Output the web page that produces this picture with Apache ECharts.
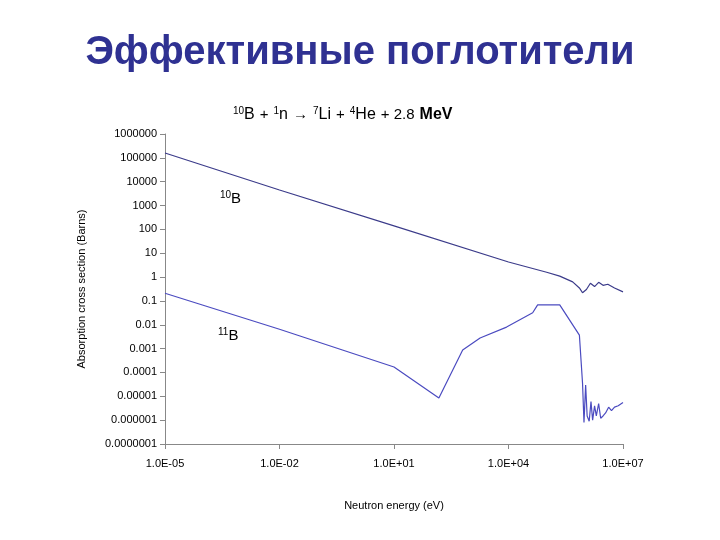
<!DOCTYPE html>
<html><head><meta charset="utf-8">
<script src="https://cdn.jsdelivr.net/npm/echarts@6/dist/echarts.min.js"></script>
<style>html,body{margin:0;padding:0;background:#fff}#c{width:720px;height:540px}</style>
</head><body><div id="c"></div>
<script>
// Energies (eV) and cross sections (barns)
const b10Energy = [1e-5, 1e-2, 1e1, 1e4, 1e5, 2.2e5, 4.8e5, 7.2e5, 8.7e5, 1.1e6, 1.4e6, 1.8e6, 2.3e6, 3e6, 4e6, 6e6, 1e7];
const b10Sigma  = [1.6e5, 4.5e3, 1.4e2, 4.3, 1.6, 1.1, 0.63, 0.35, 0.22, 0.3, 0.55, 0.4, 0.6, 0.45, 0.5, 0.35, 0.24];
const b11Energy = [1e-5, 1e-2, 1e1, 1.5e2, 6.3e2, 1.8e3, 8.9e3, 4.3e4, 5.8e4, 2.2e5, 7.2e5, 8.7e5, 9.5e5, 1.05e6, 1.15e6, 1.3e6, 1.45e6, 1.6e6, 1.8e6, 2e6, 2.3e6, 2.6e6, 3e6, 3.5e6, 4.2e6, 5e6, 6e6, 7.5e6, 1e7];
const b11Sigma  = [0.21, 6.5e-3, 1.7e-4, 8.5e-6, 8.7e-4, 2.8e-3, 8e-3, 3.2e-2, 6.8e-2, 6.8e-2, 3.7e-3, 3.6e-5, 8e-7, 3e-5, 1.5e-6, 9e-7, 6e-6, 1e-6, 4e-6, 1.5e-6, 5e-6, 1.2e-6, 1.5e-6, 2e-6, 3.5e-6, 2.5e-6, 3.5e-6, 4e-6, 5.5e-6];
const xTickExp = [-5, -2, 1, 4, 7];
const yMinExp = -7, yMaxExp = 6;

const toPts = (e, s) => e.map((v, i) => [Math.log10(v), Math.log10(s[i])]);
const fmtX = v => '1.0E' + (v < 0 ? '-' : '+') + String(Math.abs(Math.round(v))).padStart(2, '0');
const fmtY = v => { const n = Math.round(v); return n >= 0 ? String(Math.pow(10, n)) : (Math.pow(10, n)).toFixed(-n); };

const chart = echarts.init(document.getElementById('c'));
chart.setOption({
  animation: false,
  textStyle: { fontFamily: 'Liberation Sans, Arial, sans-serif' },
  title: [
    { text: 'Эффективные поглотители', left: 'center', top: 28,
      textStyle: { fontSize: 40, fontWeight: 'bold', color: '#2f3192', fontFamily: 'Liberation Sans, Arial' } },
    { text: '{s|10}{n|B} {o|+} {s|1}{n|n} {o|→} {s|7}{n|Li} {o|+} {s|4}{n|He} {o|+ 2.8} {b|MeV}', left: 228, top: 101,
      textStyle: { fontWeight: 'normal', rich: {
        s: { fontSize: 10, color: '#000', fontWeight: 'normal', padding: [0, 0, 8, 0] },
        n: { fontSize: 16, color: '#000', fontWeight: 'normal' },
        o: { fontSize: 15, color: '#000', fontWeight: 'normal' },
        b: { fontSize: 16, fontWeight: 'bold', color: '#000' } } } },
    { text: '{s|10}{n|B}', left: 215, top: 185, textStyle: { fontWeight: 'normal', rich: { s: { fontSize: 10, color: '#000', fontWeight: 'normal', padding: [0,0,8,0] }, n: { fontSize: 15, color: '#000', fontWeight: 'normal' } } } },
    { text: '{s|11}{n|B}', left: 213, top: 322, textStyle: { fontWeight: 'normal', rich: { s: { fontSize: 10, color: '#000', fontWeight: 'normal', padding: [0,0,8,0] }, n: { fontSize: 15, color: '#000', fontWeight: 'normal' } } } }
  ],
  grid: { left: 165, right: 97, top: 134, bottom: 96 },
  xAxis: {
    type: 'value', min: -5, max: 7, interval: 3,
    name: 'Neutron energy (eV)', nameLocation: 'middle', nameGap: 56,
    nameTextStyle: { fontSize: 11, color: '#000' },
    axisLine: { onZero: false, lineStyle: { color: '#888' } },
    axisTick: { lineStyle: { color: '#888' }, length: 5 },
    axisLabel: { formatter: fmtX, color: '#000', fontSize: 11, margin: 14 },
    splitLine: { show: false }
  },
  yAxis: {
    type: 'value', min: yMinExp, max: yMaxExp, interval: 1,
    name: 'Absorption cross section (Barns)', nameLocation: 'middle', nameGap: 78,
    nameTextStyle: { fontSize: 11, color: '#000' },
    axisLine: { show: true, onZero: false, lineStyle: { color: '#888' } },
    axisTick: { show: true, lineStyle: { color: '#888' }, length: 5 },
    axisLabel: { formatter: fmtY, color: '#000', fontSize: 11 },
    splitLine: { show: false }
  },
  series: [
    { type: 'line', data: toPts(b10Energy, b10Sigma), showSymbol: false, lineStyle: { color: '#3b3b8a', width: 1.2 } },
    { type: 'line', data: toPts(b11Energy, b11Sigma), showSymbol: false, lineStyle: { color: '#4b4bc0', width: 1.2 } }
  ]
});
</script></body></html>
